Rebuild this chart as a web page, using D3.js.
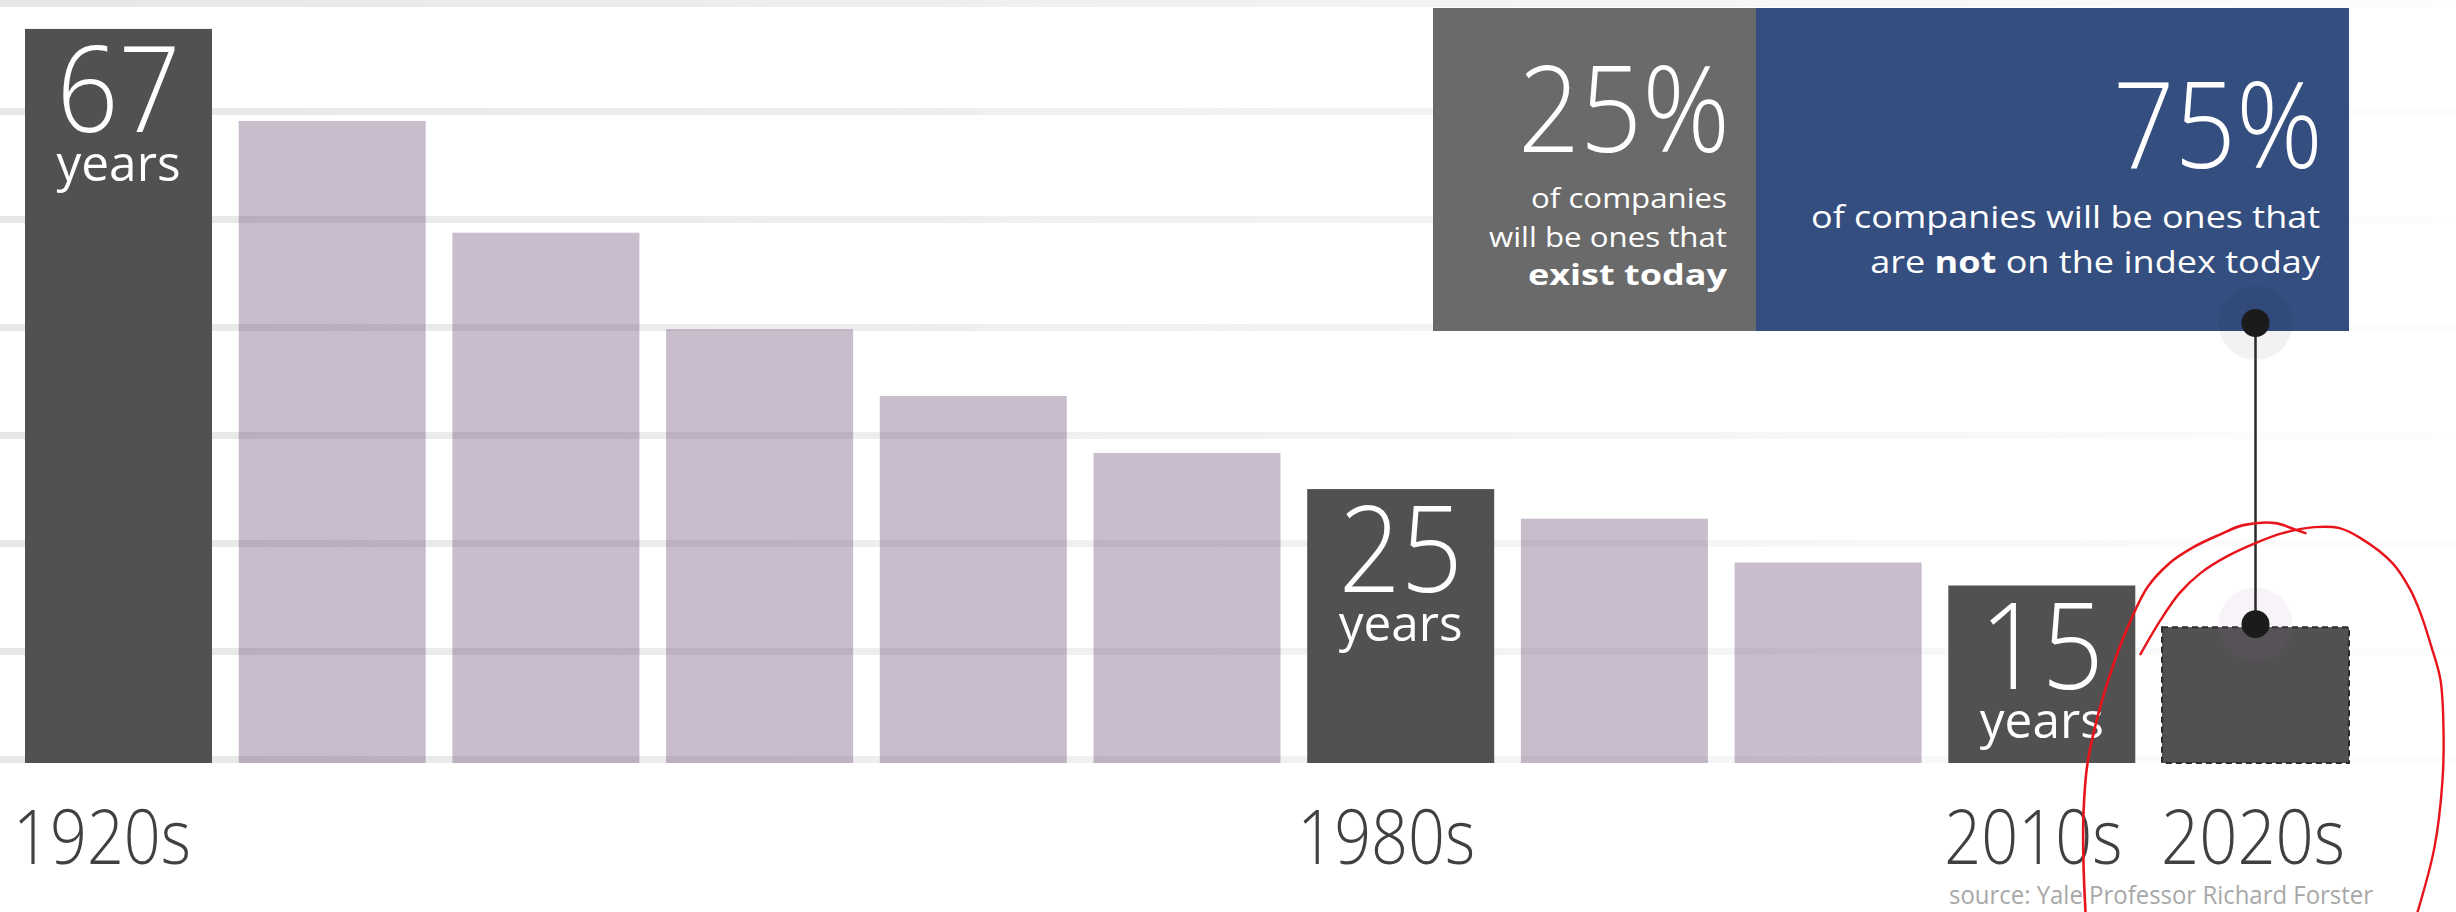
<!DOCTYPE html>
<html><head><meta charset="utf-8">
<script src="https://cdn.jsdelivr.net/npm/d3@7"></script>
<style>
html,body{margin:0;padding:0;background:#fff;}
svg{display:block;}
</style></head>
<body>
<svg id="chart" width="2456" height="912"></svg>
<script>
// ---------- data ----------
const decades = ["1920s","1930s","1940s","1950s","1960s","1970s","1980s","1990s","2000s","2010s","2020s"];
const lifespanYears = [67, 58.6, 48.4, 39.6, 33.5, 28.3, 25, 22.3, 18.3, 16.2, 12.4];
const highlightedDecades = ["1920s","1980s","2010s"];
const highlightLabels = ["67","25","15"];
const projectedDecade = "2020s";
const axisLabels = ["1920s","1980s","2010s","2020s"];
const shareValues = ["25%","75%"];
const shareExistingLines = ["of companies","will be ones that","exist today"];
const shareNewLines = ["of companies will be ones that", "are |not| on the index today"];
const sourceText = "source: Yale Professor Richard Forster";
// hand-drawn red annotation around the projected bar (offsets from the bar's top centre)
const annotationStrokeA = [[-170,285],[-172,236],[-172,186],[-168,136],[-157,86],[-143,40],[-129,3],[-108,-40],[-86,-64],[-62,-80],[-37,-92],[-12,-102],[20,-104],[41,-97],[50,-94]];
const annotationStrokeB = [[-115,27],[-95,-7],[-76,-34],[-55,-54],[-30,-70],[0,-84],[27,-94],[59,-100],[84,-99],[105,-89],[137,-64],[155,-37],[165,-14],[176,20],[185,53],[188,103],[187,153],[179,220],[162,285]];

// ---------- layout ----------
const W = 2456, H = 912;
const svg = d3.select("#chart");
const x = d3.scaleBand().domain(decades).range([25, 2349]).paddingInner(0.125).paddingOuter(0);
const y = d3.scaleLinear().domain([0, 69]).range([763, 7]);
const bw = x.bandwidth();
const DARK = "#515151", LILAC = "rgb(98,64,112)", GREYBOX = "#6a6a6a", BLUE = "#344e80";
const FONT = "'Open Sans', 'Noto Sans', sans-serif";

function fitWidth(sel, target, anchorX) {
  sel.each(function(){
    const w = this.getComputedTextLength();
    if (w > 0) {
      const s = target / w;
      d3.select(this).attr("transform", `translate(${anchorX},0) scale(${s},1) translate(${-anchorX},0)`);
    }
  });
}
function label(o) {
  return svg.append("text")
    .attr("x", o.x).attr("y", o.y)
    .attr("text-anchor", o.anchor || "start")
    .attr("textLength", o.w).attr("lengthAdjust", "spacingAndGlyphs")
    .attr("fill", o.fill || "#fff")
    .style("font-family", FONT)
    .style("font-size", o.size + "px").style("font-weight", o.weight)
    .text(o.text);
}

// gradient for gridlines
const defs = svg.append("defs");
const grad = defs.append("linearGradient").attr("id","gridGrad")
  .attr("gradientUnits","userSpaceOnUse").attr("x1",0).attr("x2",W).attr("y1",0).attr("y2",0);
grad.append("stop").attr("offset",0).attr("stop-color","#e7e7e7");
grad.append("stop").attr("offset",0.55).attr("stop-color","#f2f2f2");
grad.append("stop").attr("offset",1).attr("stop-color","#fdfdfd");

// gridlines (decorative bands dividing the plot into 7 equal steps)
const gridVals = d3.range(8).map(i => y.domain()[1] * i / 7);
svg.append("g").selectAll("rect").data(gridVals).join("rect")
  .attr("x",0).attr("width",W)
  .attr("y", d => y(d) - 7).attr("height", 7)
  .attr("fill","url(#gridGrad)");

// bars
const rows = decades.map((d,i) => ({decade:d, value:lifespanYears[i]}));
const isDark = d => highlightedDecades.includes(d.decade) || d.decade === projectedDecade;
svg.append("g").selectAll("rect.bar").data(rows).join("rect")
  .attr("class","bar")
  .attr("x", d => x(d.decade)).attr("width", bw)
  .attr("y", d => y(d.value)).attr("height", d => y(0) - y(d.value))
  .attr("fill", d => isDark(d) ? DARK : LILAC)
  .attr("fill-opacity", d => isDark(d) ? 1 : 0.35)
  .attr("stroke", d => d.decade===projectedDecade ? "#2b2b2b" : "none")
  .attr("stroke-width", 2)
  .attr("stroke-dasharray", d => d.decade===projectedDecade ? "6 4" : null);

// labels in highlighted bars
highlightedDecades.forEach((dec, i) => {
  const v = lifespanYears[decades.indexOf(dec)];
  const cx = x(dec) + bw/2, top = y(v);
  label({x: cx, y: top + 103, anchor: "middle", w: 124, size: 120, weight: 300, text: highlightLabels[i]});
  label({x: cx, y: top + 152, anchor: "middle", w: 124, size: 50, weight: 400, text: "years"});
});

// axis labels
const axisOffsets = {"1920s":-12, "1980s":-10, "2010s":-4, "2020s":-1};
axisLabels.forEach(lab => {
  label({x: x(lab) + axisOffsets[lab], y: 864, w: lab==="2020s" ? 184 : 178,
         size: 76, weight: 300, fill: "#404040", text: lab});
});
// source
label({x: 2373, y: 904, anchor: "end", w: 424, size: 26, weight: 400, fill: "#a8a8a8", text: sourceText});

// info box
const boxRight = x(projectedDecade) + bw, boxLeft = 1433, boxSplit = 1756, boxTop = 8, boxBottom = 331;
svg.append("rect").attr("x", boxLeft).attr("y", boxTop).attr("width", boxSplit-boxLeft).attr("height", boxBottom-boxTop).attr("fill", GREYBOX);
svg.append("rect").attr("x", boxSplit).attr("y", boxTop).attr("width", boxRight-boxSplit).attr("height", boxBottom-boxTop).attr("fill", BLUE);

const greyRight = boxSplit - 29, blueRight = boxRight - 29;
label({x: greyRight + 3, y: 152, anchor: "end", w: 212, size: 119, weight: 300, text: shareValues[0]});
const greyBase = [208, 247, 285], greyW = [196, 238, 199];
shareExistingLines.forEach((ln, i) => {
  label({x: greyRight, y: greyBase[i], anchor: "end", w: greyW[i], size: 28, weight: i===2 ? 700 : 400, text: ln});
});

label({x: blueRight + 3, y: 168, anchor: "end", w: 210, size: 119, weight: 300, text: shareValues[1]});
label({x: blueRight, y: 228, anchor: "end", w: 509, size: 31, weight: 400, text: shareNewLines[0]});
const blue2 = svg.append("text").attr("x", blueRight).attr("y", 273).attr("text-anchor","end").attr("fill","#fff")
  .style("font-family", FONT).style("font-size","31px");
shareNewLines[1].split("|").forEach((part, j) => {
  blue2.append("tspan").style("font-weight", j===1 ? 700 : 400).text(part);
});
blue2.call(fitWidth, 450, blueRight);

// connector
const cx = x(projectedDecade) + bw/2;
const topY = boxBottom - 8;
const anchorTop = y(lifespanYears[decades.indexOf(projectedDecade)]);
const botY = anchorTop - 3;
svg.append("circle").attr("cx", cx).attr("cy", topY).attr("r", 37).attr("fill","rgba(0,0,0,0.05)");
svg.append("circle").attr("cx", cx).attr("cy", botY).attr("r", 37).attr("fill","rgba(170,100,180,0.08)");
svg.append("line").attr("x1", cx).attr("x2", cx).attr("y1", topY).attr("y2", botY)
  .attr("stroke","#2a2a2a").attr("stroke-width", 2.5);
svg.append("circle").attr("cx", cx).attr("cy", topY).attr("r", 14).attr("fill","#1b1b1b");
svg.append("circle").attr("cx", cx).attr("cy", botY).attr("r", 14).attr("fill","#1b1b1b");

// red hand-drawn annotation
const pen = d3.line().x(d => cx + d[0]).y(d => anchorTop + d[1]).curve(d3.curveCatmullRom);
[annotationStrokeA, annotationStrokeB].forEach((s, i) => {
  svg.append("path").attr("d", pen(s)).attr("fill","none")
    .attr("stroke","#e8141b").attr("stroke-width", i===0 ? 2.6 : 2.4)
    .attr("stroke-linecap","round");
});
</script>
</body></html>
